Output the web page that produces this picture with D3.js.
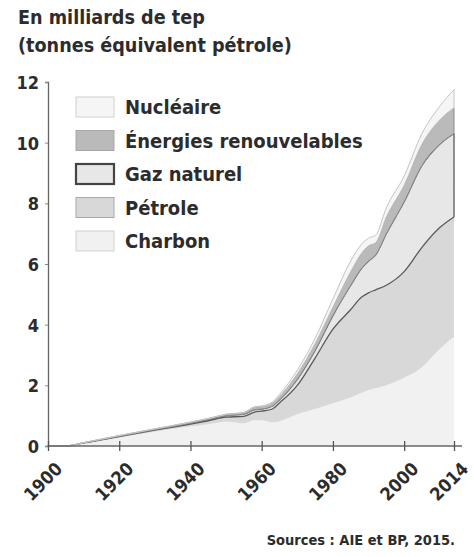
<!DOCTYPE html>
<html>
<head>
<meta charset="utf-8">
<script src="https://cdn.jsdelivr.net/npm/d3@7"></script>
<style>
  body { margin: 0; background: #fff; }
  svg text { font-family: "DejaVu Sans Condensed", "DejaVu Sans", sans-serif; font-weight: bold; fill: #2c2c2c; }
</style>
</head>
<body>
<div class="chart"></div>
<script>
// values in milliards de tep
const years = [1900, 1905, 1910, 1920, 1930, 1940, 1945, 1950, 1955, 1958, 1960, 1963, 1965, 1970, 1975, 1980, 1985, 1988, 1990, 1992, 1995, 2000, 2005, 2010, 2014]
const charbon = [0, 0, 0.09, 0.28, 0.47, 0.64, 0.72, 0.80, 0.75, 0.85, 0.85, 0.78, 0.82, 1.05, 1.22, 1.41, 1.60, 1.75, 1.85, 1.90, 2.00, 2.25, 2.60, 3.20, 3.60]
const petrole = [0, 0, 0.01, 0.03, 0.05, 0.08, 0.11, 0.15, 0.23, 0.27, 0.30, 0.44, 0.60, 0.95, 1.68, 2.44, 2.90, 3.15, 3.20, 3.25, 3.30, 3.50, 3.95, 4.00, 3.95]
const gaz = [0, 0, 0, 0.01, 0.02, 0.03, 0.04, 0.05, 0.07, 0.08, 0.07, 0.10, 0.10, 0.20, 0.25, 0.45, 0.80, 0.95, 1.05, 1.15, 1.70, 2.30, 2.70, 2.75, 2.75]
const renouvelables = [0, 0, 0.01, 0.02, 0.02, 0.03, 0.03, 0.04, 0.05, 0.08, 0.08, 0.10, 0.12, 0.18, 0.23, 0.28, 0.45, 0.50, 0.50, 0.40, 0.55, 0.55, 0.70, 0.80, 0.85]
const nucleaire = [0, 0, 0, 0.01, 0.01, 0.01, 0.01, 0.01, 0.01, 0.01, 0.02, 0.03, 0.06, 0.12, 0.17, 0.27, 0.35, 0.30, 0.25, 0.25, 0.30, 0.30, 0.35, 0.45, 0.60]

const xTicks = [1900, 1920, 1940, 1960, 1980, 2000, 2014]
const yTicks = [0, 2, 4, 6, 8, 10, 12]

const keys = ["charbon", "petrole", "gaz", "renouvelables", "nucleaire"]
const legendOrder = ["nucleaire", "renouvelables", "gaz", "petrole", "charbon"]
const labels = {
    nucleaire: "Nucléaire",
    renouvelables: "Énergies renouvelables",
    gaz: "Gaz naturel",
    petrole: "Pétrole",
    charbon: "Charbon"
}
const fills = {
    charbon: "#f1f1f1",
    petrole: "#d8d8d8",
    gaz: "#e7e7e7",
    renouvelables: "#bababa",
    nucleaire: "#f5f5f5"
}
const strokes = {
    charbon: "none",
    petrole: "none",
    gaz: "#5a5a5a",
    renouvelables: "#8c8c8c",
    nucleaire: "#c4c4c4"
}

const table = years.map((y, i) => ({
    year: y,
    charbon: charbon[i],
    petrole: petrole[i],
    gaz: gaz[i],
    renouvelables: renouvelables[i],
    nucleaire: nucleaire[i]
}))

const width = 474, height = 557
const margin = {top: 82, right: 20, bottom: 111, left: 48}

const svg = d3.select(".chart")
    .append("svg")
        .attr("width", width)
        .attr("height", height)

let x = d3.scaleLinear()
    .domain([1900, 2014])
    .range([margin.left, 454])

let y = d3.scaleLinear()
    .domain([0, 12])
    .range([height - margin.bottom, margin.top])

const series = d3.stack().keys(keys)(table)

const area = d3.area()
    .x(d => x(d.data.year))
    .y0(d => y(d[0]))
    .y1(d => y(d[1]))
    .curve(d3.curveMonotoneX)

svg.append("g")
    .selectAll("path")
    .data(series)
    .enter()
    .append("path")
        .attr("d", area)
        .attr("fill", d => fills[d.key])
        .attr("stroke", d => strokes[d.key])
        .attr("stroke-width", d => d.key == "gaz" ? 1.3 : 1)
        .attr("stroke-linejoin", "round")

// title
svg.append("text")
    .attr("x", 18).attr("y", 24)
    .style("font-size", "19.6px")
    .text("En milliards de tep")
svg.append("text")
    .attr("x", 18).attr("y", 52)
    .style("font-size", "19.6px")
    .text("(tonnes équivalent pétrole)")

// axes
const yAxis = svg.append("g")
    .attr("transform", "translate(" + margin.left + ",0)")
    .call(d3.axisLeft(y).tickValues(yTicks).tickSize(3).tickPadding(6).tickFormat(d3.format("d")))
yAxis.select(".domain").attr("stroke", "#666").attr("stroke-width", 1.3)
yAxis.selectAll(".tick line").attr("stroke", "#888")
yAxis.selectAll("text")
    .style("font-size", "18px")
    .attr("dy", "0.36em")

const xAxis = svg.append("g")
    .attr("transform", "translate(0," + y(0) + ")")
    .call(d3.axisBottom(x).tickValues(xTicks).tickSize(5).tickSizeOuter(0).tickFormat(d3.format("d")))
xAxis.select(".domain")
    .attr("d", "M" + x(1900) + ",0H" + (x(2014) + 8))
    .attr("stroke", "#666").attr("stroke-width", 1.3)
xAxis.selectAll(".tick line")
    .attr("y1", -5)
    .attr("stroke", "#555").attr("stroke-width", 1.3)
xAxis.selectAll("text")
    .style("font-size", "18px")
    .style("text-anchor", "end")
    .attr("dy", 0)
    .attr("transform", "translate(15,24)rotate(-45)")
    .attr("x", 0).attr("y", 0)

// legend
const legend = svg.append("g")
legendOrder.forEach((k, i) => {
    const ly = 97 + i * 33.5
    legend.append("rect")
        .attr("x", 76).attr("y", ly)
        .attr("width", 38).attr("height", 20)
        .attr("fill", fills[k])
        .attr("stroke", k == "gaz" ? "#444" : (k == "charbon" || k == "nucleaire") ? "#d0d0d0" : "#a8a8a8")
        .attr("stroke-width", k == "gaz" ? 2.2 : 1)
    legend.append("text")
        .attr("x", 125).attr("y", ly + 17)
        .style("font-size", "20px")
        .text(labels[k])
})

svg.append("text")
    .attr("x", 455).attr("y", 545)
    .attr("text-anchor", "end")
    .style("font-size", "14.5px")
    .text("Sources : AIE et BP, 2015.")
</script>
</body>
</html>
